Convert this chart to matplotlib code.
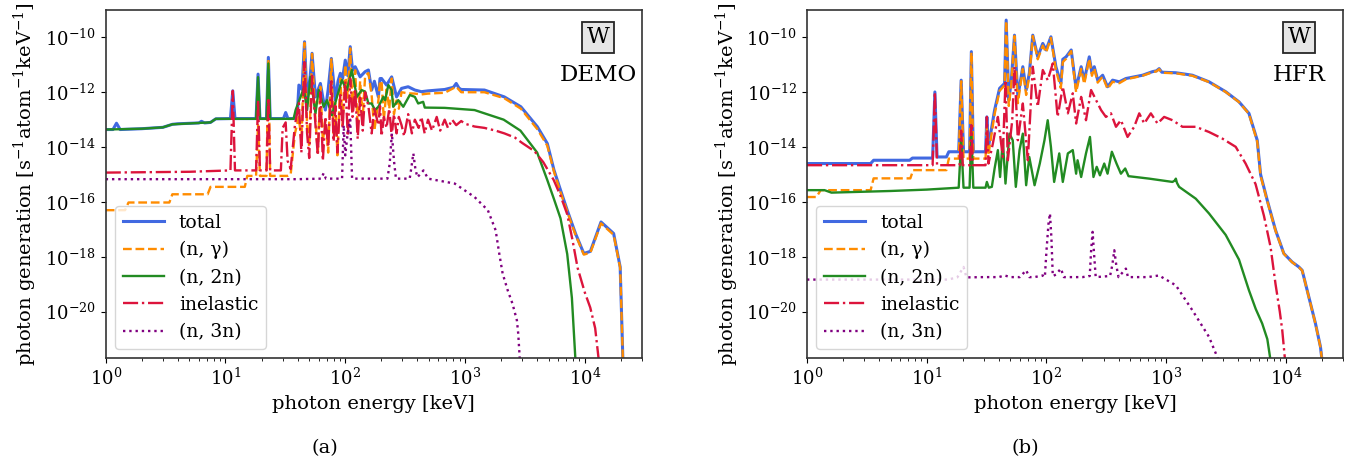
"""Photon generation spectra of W in the DEMO and HFR neutron fields."""
import numpy as np
import matplotlib
matplotlib.use("Agg")
import matplotlib.pyplot as plt
from matplotlib.ticker import LogLocator, NullLocator

plt.rcParams.update({
    "font.family": "DejaVu Serif",
    "mathtext.fontset": "dejavuserif",
    "font.size": 14,
    "xtick.labelsize": 13,
    "ytick.labelsize": 13,
    "legend.fontsize": 13.5,
    "axes.edgecolor": "0.2",
    "axes.linewidth": 1.2,
})

# Energies in keV, values are log10 of photon generation [s^-1 atom^-1 keV^-1]
# ---------------- DEMO ----------------
demo_total_E = [1.0, 1.15, 1.23, 1.32, 2.0, 3.0, 3.6, 4.0, 6.0, 6.3, 6.7, 7.5, 8.3, 11.0, 11.5, 12.0,
                18.0, 18.7, 19.4, 22.0, 22.8, 23.6, 30.5, 31.8, 33.2, 38, 40, 41, 43.5, 45.7, 48, 51,
                52.8, 56.4, 62, 65, 68.2, 72, 76.5, 82.6, 87, 91, 95, 100, 105, 110, 115, 121, 133,
                146.5, 156, 166, 175, 189, 195, 201, 221, 244, 268, 295, 335, 381, 432, 491, 676,
                800, 844, 890, 929, 1452, 2128, 2924, 4018, 4862, 5530, 6270, 7130, 8360, 9810,
                11130, 13650, 17400, 19730, 20800, 21000]
demo_total_lg = [-13.36, -13.36, -13.13, -13.36, -13.33, -13.28, -13.17, -13.15, -13.12, -13.06, -13.12,
                 -13.1, -12.97, -12.96, -11.95, -12.96, -12.96, -11.34, -12.96, -12.96, -10.73, -12.96,
                 -12.96, -12.74, -12.96, -12.96, -12.6, -11.74, -11.9, -10.16, -12.29, -11.4, -10.58,
                 -12.17, -11.68, -12.2, -12.65, -11.9, -10.77, -12.29, -11.6, -11.31, -11.5, -10.83,
                 -11.4, -10.34, -11.2, -11.07, -11.44, -11.25, -11.19, -11.92, -11.6, -12.17, -11.5,
                 -11.5, -11.74, -11.44, -12.17, -11.86, -11.8, -11.92, -11.98, -11.95, -11.9, -11.82,
                 -11.68, -11.85, -11.9, -11.92, -12.17, -12.53, -13.26, -13.87, -14.84, -15.57, -16.3,
                 -17.15, -17.88, -17.8, -16.73, -17.15, -18.37, -21.8, -24]

demo_ngamma_E = [1.0, 1.45, 1.55, 3.4, 3.6, 7.1, 7.5, 14.5, 15.2, 18.0, 18.7, 19.4, 22.0, 22.8, 23.6,
                 33, 35, 38, 41, 43, 45.7, 48, 50, 52.8, 56.4, 59, 62, 65, 68.2, 72, 76.5, 80, 82.6,
                 86, 91, 95, 100, 105, 110, 115, 121, 127, 133, 140, 146.5, 156, 166, 175, 189, 195,
                 201, 210, 221, 233, 244, 255, 268, 280, 295, 335, 381, 432, 491, 676, 844, 929,
                 1452, 2128, 2924, 4018, 4862, 5530, 6270, 7130, 8360, 9810, 11130, 13650, 17400,
                 19730, 20800, 21000]
demo_ngamma_lg = [-16.3, -16.3, -16.02, -16.02, -15.72, -15.72, -15.45, -15.45, -15.05, -15.05, -13.2,
                  -15.05, -15.05, -10.8, -15.05, -15.05, -15.0, -13.5, -12.9, -13.8, -10.2, -13.2, -14.0,
                  -10.6, -13.0, -14.2, -11.8, -13.8, -13.0, -14.2, -10.8, -13.5, -12.4, -14.3, -11.5,
                  -13.2, -11.0, -12.2, -10.4, -12.6, -11.2, -13.3, -11.6, -12.9, -11.4, -11.3, -12.1,
                  -13.4, -12.3, -11.6, -11.6, -13.0, -11.9, -12.6, -11.5, -12.8, -12.3, -12.6, -12.0,
                  -12.04, -12.05, -12.08, -12.05, -12.02, -11.8, -12.0, -12.0, -12.22, -12.6, -13.35,
                  -13.95, -14.9, -15.65, -16.35, -17.2, -17.92, -17.85, -16.78, -17.2, -18.4, -21.8, -24]

demo_n2n_E = [1.0, 2.0, 3.0, 3.6, 6.0, 7.5, 8.3, 18.0, 18.7, 19.4, 22.0, 22.8, 23.6, 37, 38.5, 42.3,
              45, 48, 51.2, 56.4, 60, 66, 70.4, 77.4, 85.2, 93.7, 103, 113.4, 125, 137, 146.6, 156,
              166, 177, 189, 208, 215, 229, 244, 251, 277, 305, 346, 381, 406, 447, 461, 676, 1200,
              2100, 2900, 4000, 4860, 5530, 6270, 7130, 7800, 8360, 8500]
demo_n2n_lg = [-13.36, -13.33, -13.28, -13.17, -13.12, -13.1, -12.97, -12.97, -11.45, -12.97, -12.97,
               -10.95, -12.97, -12.97, -12.65, -12.17, -11.86, -12.65, -11.44, -12.77, -11.92, -12.53,
               -12.29, -12.84, -12.17, -11.56, -11.92, -11.19, -12.17, -11.92, -11.98, -12.41, -12.41,
               -12.65, -12.53, -12.17, -12.29, -11.74, -11.92, -12.53, -12.29, -12.53, -12.1, -12.17,
               -12.41, -12.35, -12.56, -12.57, -12.65, -13.0, -13.4, -14.2, -15.2, -15.9, -16.6,
               -17.9, -19.5, -21.8, -24]

demo_inel_E = [1.0, 5.0, 11.0, 11.5, 12.0, 18.0, 18.7, 19.4, 22.0, 22.8, 23.6, 29, 30, 31.8, 33, 35,
               38, 41, 43, 45.7, 48, 50, 52.8, 56.4, 59, 62, 65, 68.2, 72, 76.5, 80, 82.6, 86, 91,
               95, 100, 105, 110, 115, 121, 127, 133, 140, 146.5, 156, 166, 175, 189, 195, 201, 210,
               221, 233, 244, 255, 268, 280, 295, 310, 335, 360, 381, 410, 432, 460, 491, 530, 580,
               620, 676, 720, 780, 844, 929, 1000, 1200, 1452, 1800, 2128, 2600, 3000, 3800, 4500,
               5500, 6300, 7130, 7900, 8700, 10000, 11100, 12200, 13100, 13300]
demo_inel_lg = [-14.93, -14.9, -14.85, -11.95, -14.85, -14.85, -12.3, -14.85, -14.85, -12.2, -14.85,
                -14.85, -13.3, -13.1, -14.5, -14.8, -13.2, -12.4, -14.2, -10.9, -13.5, -14.4, -11.4,
                -13.2, -14.3, -12.0, -14.5, -12.9, -14.0, -11.6, -13.8, -12.5, -14.2, -12.1, -13.3,
                -11.6, -13.6, -11.5, -12.9, -11.9, -13.7, -12.2, -13.4, -12.0, -12.5, -13.5, -12.6,
                -13.2, -12.5, -13.6, -12.9, -13.3, -12.6, -13.6, -12.8, -13.5, -12.9, -13.2, -13.6,
                -12.8, -13.5, -13.0, -13.3, -12.9, -13.5, -13.0, -13.4, -12.9, -13.4, -13.0, -13.3,
                -13.0, -13.2, -13.05, -13.15, -13.25, -13.3, -13.4, -13.5, -13.65, -13.85, -14.15,
                -14.55, -15.2, -15.8, -16.45, -17.4, -18.4, -19.3, -19.85, -20.6, -21.8, -24]

demo_n3n_E = [1.0, 40, 63, 66, 69, 94, 97, 100, 104, 110, 114, 225, 235, 245, 255, 265, 345, 355, 370,
              385, 400, 450, 491, 820, 1200, 1550, 1800, 1930, 2060, 2270, 2490, 2710, 2780, 2870, 2900]
demo_n3n_lg = [-15.17, -15.17, -15.15, -14.95, -15.15, -15.15, -13.2, -14.3, -13.6, -13.0, -15.15,
               -15.15, -14.6, -13.5, -14.5, -15.15, -15.15, -14.8, -14.23, -14.8, -15.1, -14.85,
               -15.15, -15.33, -15.82, -16.3, -17.03, -17.88, -18.61, -19.22, -19.71, -20.32, -20.8,
               -21.8, -24]

# ---------------- HFR ----------------
hfr_total_E = [1.0, 3.4, 3.6, 7.2, 7.6, 11.2, 11.7, 12.2, 14.6, 15.3, 18.5, 19.4, 20.3, 22.8, 23.6,
               24.5, 31, 31.8, 32.8, 33.5, 36.9, 40.6, 44.7, 46.1, 48.5, 50.8, 54.1, 57.7, 63.5, 67.7,
               72, 76.9, 84.6, 93.2, 99.4, 109, 120, 132, 137, 146, 161, 177, 195, 207, 228, 240, 251,
               268, 295, 324, 357, 406, 461, 635, 769, 830, 874, 920, 1205, 1657, 2281, 3141, 4058,
               4916, 5766, 6150, 6990, 8200, 9620, 11290, 12840, 13680, 15550, 17670, 19450, 20080,
               20300]
hfr_total_lg = [-14.6, -14.6, -14.48, -14.48, -14.4, -14.4, -11.99, -14.36, -14.36, -14.17, -14.17,
                -11.56, -14.17, -14.17, -10.52, -14.17, -14.17, -12.9, -14.0, -13.75, -12.65, -11.86,
                -11.68, -9.37, -12.29, -11.62, -9.92, -12.17, -11.07, -11.92, -11.3, -9.92, -10.71,
                -10.22, -10.46, -9.98, -11.07, -11.68, -10.8, -10.71, -10.46, -11.86, -11.07, -11.56,
                -10.71, -11.3, -11.07, -11.56, -11.38, -11.8, -11.56, -11.62, -11.5, -11.38, -11.25,
                -11.22, -11.14, -11.27, -11.29, -11.38, -11.62, -11.98, -12.35, -12.77, -13.75, -15.0,
                -15.94, -17.03, -17.88, -18.19, -18.37, -18.49, -19.46, -20.43, -21.28, -21.8, -24]

hfr_ngamma_E = [1.0, 1.2, 1.3, 3.4, 3.6, 7.3, 7.7, 14.6, 15.3, 18.5, 19.4, 20.3, 22.8, 23.6, 24.5, 31,
                31.8, 32.8, 33.5, 36.9, 40.6, 44.7, 46.1, 48.5, 50.8, 54.1, 57.7, 63.5, 67.7, 72, 76.9,
                84.6, 93.2, 99.4, 109, 120, 132, 137, 146, 161, 177, 195, 207, 228, 240, 251, 268, 295,
                324, 357, 406, 461, 635, 769, 830, 874, 920, 1205, 1657, 2281, 3141, 4058, 4916, 5766,
                6150, 6990, 8200, 9620, 11290, 12840, 13680, 15550, 17670, 19450, 20080, 20300]
hfr_ngamma_lg = [-15.82, -15.82, -15.57, -15.57, -15.14, -15.14, -14.84, -14.84, -14.42, -14.42, -11.6,
                 -14.42, -14.42, -10.55, -14.42, -14.42, -13.3, -14.3, -14.0, -12.8, -11.95, -11.75,
                 -9.4, -12.5, -11.75, -9.95, -12.4, -11.15, -12.1, -11.4, -9.95, -10.8, -10.3, -10.55,
                 -10.02, -11.2, -11.85, -10.9, -10.78, -10.5, -12.0, -11.15, -11.7, -10.78, -11.4,
                 -11.12, -11.65, -11.43, -11.88, -11.62, -11.67, -11.53, -11.4, -11.27, -11.24, -11.16,
                 -11.29, -11.31, -11.4, -11.63, -11.99, -12.36, -12.79, -13.8, -15.05, -15.97, -17.05,
                 -17.89, -18.2, -18.38, -18.5, -19.47, -20.44, -21.3, -21.8, -24]

hfr_n2n_E = [1.0, 1.4, 1.6, 5.0, 10.0, 18.5, 19.4, 20.3, 22.8, 23.6, 24.5, 31, 31.8, 33, 35, 36.9,
             39.3, 41, 43.2, 45.5, 49.1, 52.3, 55.5, 59.6, 63.5, 67.7, 71.9, 79.6, 88, 96.3, 102.5,
             109, 116, 128, 137, 151, 166, 177, 182, 195, 214, 231, 247, 263, 280, 304, 324, 352,
             385, 419, 455, 485, 722, 1129, 1180, 1205, 1230, 1283, 1767, 2281, 3141, 4058, 4916,
             5600, 6340, 7000, 7460, 7550]
hfr_n2n_lg = [-15.57, -15.57, -15.66, -15.6, -15.55, -15.48, -13.75, -15.48, -15.48, -13.45, -15.48,
              -15.48, -15.27, -15.48, -15.45, -14.78, -14.11, -15.09, -13.75, -15.33, -13.51, -13.75,
              -15.45, -14.11, -13.51, -15.39, -14.36, -15.39, -14.6, -13.75, -13.02, -13.99, -15.27,
              -14.23, -15.27, -14.23, -14.11, -14.97, -14.48, -15.09, -14.23, -13.63, -15.09, -14.72,
              -15.03, -14.6, -14.97, -14.17, -14.6, -14.97, -14.78, -15.06, -15.15, -15.27, -15.22,
              -15.15, -15.3, -15.45, -15.88, -16.42, -17.2, -18.1, -19.22, -19.9, -20.43, -21.0,
              -21.8, -24]

hfr_inel_E = [1.0, 11.2, 11.7, 12.2, 18.8, 19.4, 20.0, 23.0, 23.6, 24.3, 31, 31.8, 32.8, 35.7, 39.3,
              43.2, 45.5, 47.6, 51.8, 54.1, 57.7, 63.5, 69.9, 76.9, 84.6, 93.2, 102.5, 113, 124, 137,
              151, 166, 177, 195, 214, 236, 260, 286, 314, 346, 381, 419, 476, 541, 596, 656, 745,
              847, 962, 1129, 1368, 1767, 2281, 2947, 3809, 4611, 5585, 6556, 7450, 8200, 8900, 9330,
              9810, 9900]
hfr_inel_lg = [-14.66, -14.66, -11.99, -14.66, -14.66, -13.4, -14.66, -14.66, -13.2, -14.66, -14.66,
               -12.9, -14.6, -13.87, -12.9, -14.36, -11.56, -14.48, -13.02, -11.07, -13.75, -12.41,
               -14.48, -11.07, -12.53, -11.19, -11.56, -10.95, -12.9, -11.8, -12.77, -12.04, -13.14,
               -12.17, -13.02, -11.92, -12.29, -12.65, -12.9, -12.77, -13.26, -13.02, -13.63, -13.26,
               -12.77, -13.14, -12.77, -13.14, -12.9, -13.02, -13.26, -13.26, -13.45, -13.69, -13.99,
               -14.6, -15.35, -16.5, -17.64, -19.0, -20.0, -20.68, -21.7, -24]

hfr_n3n_E = [1.0, 15, 18, 19.5, 20.3, 21.5, 30, 40, 44.7, 50, 60, 67.7, 72, 79.6, 88, 93, 97, 100, 104,
             107, 110, 113, 120, 132, 140, 200, 230, 236, 243, 250, 258, 340, 355, 369, 383, 400,
             461, 480, 700, 874, 920, 1205, 1657, 2281, 2760, 2800]
hfr_n3n_lg = [-18.83, -18.83, -18.75, -18.5, -18.37, -18.75, -18.74, -18.74, -18.68, -18.74, -18.74,
              -18.49, -18.74, -18.74, -18.7, -18.68, -18.74, -17.8, -16.8, -16.42, -17.3, -18.7,
              -18.65, -18.43, -18.74, -18.74, -18.7, -17.8, -17.09, -17.9, -18.74, -18.7, -18.3,
              -17.76, -18.3, -18.74, -18.43, -18.74, -18.74, -18.68, -18.74, -19.04, -19.95, -20.92,
              -21.8, -24]

LABELS = ["total", "(n, γ)", "(n, 2n)", "inelastic", "(n, 3n)"]
COLORS = ["royalblue", "darkorange", "forestgreen", "crimson", "purple"]
STYLES = ["-", "--", "-", "-.", ":"]
WIDTHS = [2.2, 1.7, 1.7, 1.7, 1.7]


def draw_panel(ax, series, facility):
    for (E, lg), lab, c, ls, lw in zip(series, LABELS, COLORS, STYLES, WIDTHS):
        ax.plot(E, 10.0 ** np.asarray(lg), ls=ls, color=c, lw=lw, label=lab)
    ax.set_xscale("log")
    ax.set_yscale("log")
    ax.set_xlim(1, 3e4)
    ax.set_ylim(2e-22, 1e-9)
    ax.set_yticks([10.0 ** k for k in range(-20, -9, 2)])
    ax.yaxis.set_minor_locator(NullLocator())
    ax.xaxis.set_major_locator(LogLocator(base=10, numticks=10))
    ax.xaxis.set_minor_locator(LogLocator(base=10, subs=np.arange(2, 10), numticks=20))
    ax.set_xlabel("photon energy [keV]")
    ax.set_ylabel(r"photon generation [s$^{-1}$atom$^{-1}$keV$^{-1}$]")
    ax.legend(loc="lower left", handlelength=2.2)
    ax.text(0.918, 0.922, "W", transform=ax.transAxes, ha="center", va="center", fontsize=16,
            bbox=dict(boxstyle="square,pad=0.2", fc="0.9", ec="0.15", lw=1.3))
    ax.text(0.918, 0.813, facility, transform=ax.transAxes, ha="center", va="center", fontsize=16.5)


fig = plt.figure(figsize=(13.45, 4.62), dpi=100)
ax_a = fig.add_axes([0.0786, 0.2245, 0.3987, 0.754])
ax_b = fig.add_axes([0.600, 0.2245, 0.3985, 0.754])

draw_panel(ax_a, [(demo_total_E, demo_total_lg), (demo_ngamma_E, demo_ngamma_lg),
                  (demo_n2n_E, demo_n2n_lg), (demo_inel_E, demo_inel_lg),
                  (demo_n3n_E, demo_n3n_lg)], "DEMO")
draw_panel(ax_b, [(hfr_total_E, hfr_total_lg), (hfr_ngamma_E, hfr_ngamma_lg),
                  (hfr_n2n_E, hfr_n2n_lg), (hfr_inel_E, hfr_inel_lg),
                  (hfr_n3n_E, hfr_n3n_lg)], "HFR")

fig.text(0.2416, 0.030, "(a)", ha="center", va="center", fontsize=14)
fig.text(0.762, 0.030, "(b)", ha="center", va="center", fontsize=14)

fig.savefig("out.png", dpi=100)
